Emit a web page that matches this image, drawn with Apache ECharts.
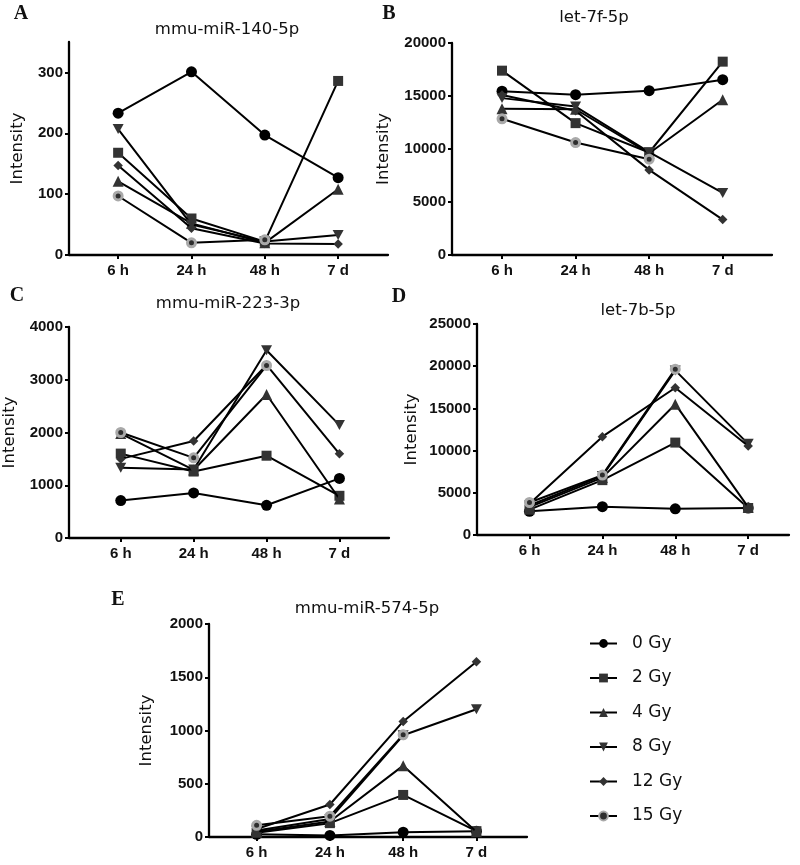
<!DOCTYPE html>
<html><head><meta charset="utf-8">
<script src="https://cdn.jsdelivr.net/npm/echarts@6/dist/echarts.min.js"></script>
<style>html,body{margin:0;padding:0;background:#fff}#c{width:800px;height:865px}</style>
</head><body><div id="c"></div><script>
// ---------- data ----------
const categories = ['6 h', '24 h', '48 h', '7 d'];
const doses = ['0 Gy', '2 Gy', '4 Gy', '8 Gy', '12 Gy', '15 Gy'];

// A: mmu-miR-140-5p
const miR140_0Gy = [233, 301, 197, 127];
const miR140_2Gy = [168, 60, 22, 286];
const miR140_4Gy = [121, 52, 20, 108];
const miR140_8Gy = [207, 50, 22, 33];
const miR140_12Gy = [147, 44, 19, 18];
const miR140_15Gy = [97, 20, 25, null];
const ticks140 = [0, 100, 200, 300];

// B: let-7f-5p
const let7f_0Gy = [15450, 15120, 15500, 16540];
const let7f_2Gy = [17390, 12440, 9670, 18240];
const let7f_4Gy = [13800, 13750, 9600, 14650];
const let7f_8Gy = [14800, 14000, 9700, 5850];
const let7f_12Gy = [15100, 13600, 8030, 3340];
const let7f_15Gy = [12850, 10610, 9040, null];
const ticks7f = [0, 5000, 10000, 15000, 20000];

// C: mmu-miR-223-3p
const miR223_0Gy = [710, 855, 620, 1130];
const miR223_2Gy = [1600, 1260, 1560, 800];
const miR223_4Gy = [1980, 1290, 2720, 740];
const miR223_8Gy = [1330, 1300, 3560, 2140];
const miR223_12Gy = [1500, 1840, 3280, 1595];
const miR223_15Gy = [2000, 1520, 3270, null];
const ticks223 = [0, 1000, 2000, 3000, 4000];

// D: let-7b-5p
const let7b_0Gy = [2800, 3350, 3100, 3200];
const let7b_2Gy = [3000, 6500, 10950, 3200];
const let7b_4Gy = [3300, 6800, 15500, 3300];
const let7b_8Gy = [3500, 7000, 19500, 10800];
const let7b_12Gy = [3700, 11650, 17450, 10550];
const let7b_15Gy = [3850, 7100, 19650, null];
const ticks7b = [0, 5000, 10000, 15000, 20000, 25000];

// E: mmu-miR-574-5p
const miR574_0Gy = [25, 15, 45, 55];
const miR574_2Gy = [40, 130, 395, 55];
const miR574_4Gy = [50, 145, 670, 50];
const miR574_8Gy = [60, 170, 955, 1200];
const miR574_12Gy = [75, 305, 1085, 1645];
const miR574_15Gy = [110, 195, 960, null];
const ticks574 = [0, 500, 1000, 1500, 2000];

// ---------- layout ----------
const panels = [
  { title: 'mmu-miR-140-5p', letter: 'A', values: [miR140_0Gy, miR140_2Gy, miR140_4Gy, miR140_8Gy, miR140_12Gy, miR140_15Gy], ticks: ticks140, yMax: 350,
    grid: { left: 69, top: 42, width: 319, height: 213 }, xMin: 0.33, xMax: 4.68, nameGap: 43, titlePos: [227, 30], letterPos: [21, 14] },
  { title: 'let-7f-5p', letter: 'B', values: [let7f_0Gy, let7f_2Gy, let7f_4Gy, let7f_8Gy, let7f_12Gy, let7f_15Gy], ticks: ticks7f, yMax: 20000,
    grid: { left: 452, top: 43, width: 320, height: 212 }, xMin: 0.32, xMax: 4.67, nameGap: 60, titlePos: [594, 18], letterPos: [389, 14] },
  { title: 'mmu-miR-223-3p', letter: 'C', values: [miR223_0Gy, miR223_2Gy, miR223_4Gy, miR223_8Gy, miR223_12Gy, miR223_15Gy], ticks: ticks223, yMax: 4000,
    grid: { left: 69, top: 327, width: 320, height: 211 }, xMin: 0.29, xMax: 4.68, nameGap: 51, titlePos: [228, 304], letterPos: [17, 296] },
  { title: 'let-7b-5p', letter: 'D', values: [let7b_0Gy, let7b_2Gy, let7b_4Gy, let7b_8Gy, let7b_12Gy, let7b_15Gy], ticks: ticks7b, yMax: 25000,
    grid: { left: 477, top: 324, width: 312, height: 211 }, xMin: 0.28, xMax: 4.56, nameGap: 57, titlePos: [638, 311], letterPos: [399, 297] },
  { title: 'mmu-miR-574-5p', letter: 'E', values: [miR574_0Gy, miR574_2Gy, miR574_4Gy, miR574_8Gy, miR574_12Gy, miR574_15Gy], ticks: ticks574, yMax: 2000,
    grid: { left: 209, top: 624, width: 318, height: 213 }, xMin: 0.35, xMax: 4.69, nameGap: 54, titlePos: [367, 609], letterPos: [118, 600] }
];

const downTri = 'path://M0,0 L10,0 L5,9 Z';
const symbolStyles = [
  { symbol: 'circle', symbolSize: 11, itemStyle: { color: '#000' } },
  { symbol: 'rect', symbolSize: 10, itemStyle: { color: '#333' } },
  { symbol: 'triangle', symbolSize: 11, itemStyle: { color: '#333' } },
  { symbol: downTri, symbolSize: [11, 10], itemStyle: { color: '#333' } },
  { symbol: 'diamond', symbolSize: 9.5, itemStyle: { color: '#333' } },
  { symbol: 'circle', symbolSize: 8, itemStyle: { color: '#2e2e2e', borderColor: '#a9a9a9', borderWidth: 3 } }
];

const SANS = 'DejaVu Sans';
const LAB = 'Liberation Sans';
const grids = [], xAxes = [], yAxes = [], series = [], graphics = [];

panels.forEach((p, i) => {
  grids.push(Object.assign({ containLabel: false }, p.grid));
  xAxes.push({
    type: 'value', gridIndex: i, min: p.xMin, max: p.xMax,
    axisLine: { show: true, onZero: false, lineStyle: { color: '#000', width: 2.3 } },
    axisTick: { show: true, customValues: [1, 2, 3, 4], length: 4, lineStyle: { color: '#000', width: 2 } },
    axisLabel: { customValues: [1, 2, 3, 4], formatter: v => categories[Math.round(v) - 1] || '',
      fontFamily: LAB, fontWeight: 'bold', fontSize: 15, color: '#111', margin: 8 },
    splitLine: { show: false }
  });
  yAxes.push({
    type: 'value', gridIndex: i, min: 0, max: p.yMax,
    name: 'Intensity', nameLocation: 'middle', nameGap: p.nameGap,
    nameTextStyle: { fontFamily: SANS, fontSize: 16.5, color: '#111' },
    axisLine: { show: true, lineStyle: { color: '#000', width: 2.3 } },
    axisTick: { show: true, customValues: p.ticks, length: 4, lineStyle: { color: '#000', width: 2 } },
    axisLabel: { customValues: p.ticks, formatter: v => String(v),
      fontFamily: LAB, fontWeight: 'bold', fontSize: 15, color: '#111', margin: 6 },
    splitLine: { show: false }
  });
  p.values.forEach((vals, j) => {
    const data = [];
    vals.forEach((v, k) => { if (v !== null) data.push([k + 1, v]); });
    series.push(Object.assign({
      type: 'line', name: doses[j], xAxisIndex: i, yAxisIndex: i, data,
      lineStyle: { color: '#000', width: 2 },
      showAllSymbol: true, animation: false, z: 2 + j
    }, symbolStyles[j]));
  });
  graphics.push({
    type: 'text', x: p.titlePos[0], y: p.titlePos[1],
    style: { text: p.title, font: '16.5px "DejaVu Sans"', fill: '#111', align: 'center', verticalAlign: 'middle' }
  });
  graphics.push({
    type: 'text', x: p.letterPos[0], y: p.letterPos[1],
    style: { text: p.letter, font: 'bold 20px "Liberation Serif"', fill: '#111', align: 'center', verticalAlign: 'middle' }
  });
});

const chart = echarts.init(document.getElementById('c'), null, { renderer: 'canvas' });
chart.setOption({
  backgroundColor: '#fff',
  animation: false,
  grid: grids, xAxis: xAxes, yAxis: yAxes, series,
  graphic: graphics,
  legend: {
    data: doses, orient: 'vertical', left: 584, top: 630,
    itemWidth: 27, itemHeight: 11, itemGap: 17.5, selectedMode: false,
    textStyle: { fontFamily: SANS, fontSize: 17, color: '#111', padding: [0, 0, 0, 10] }
  }
});
</script></body></html>
